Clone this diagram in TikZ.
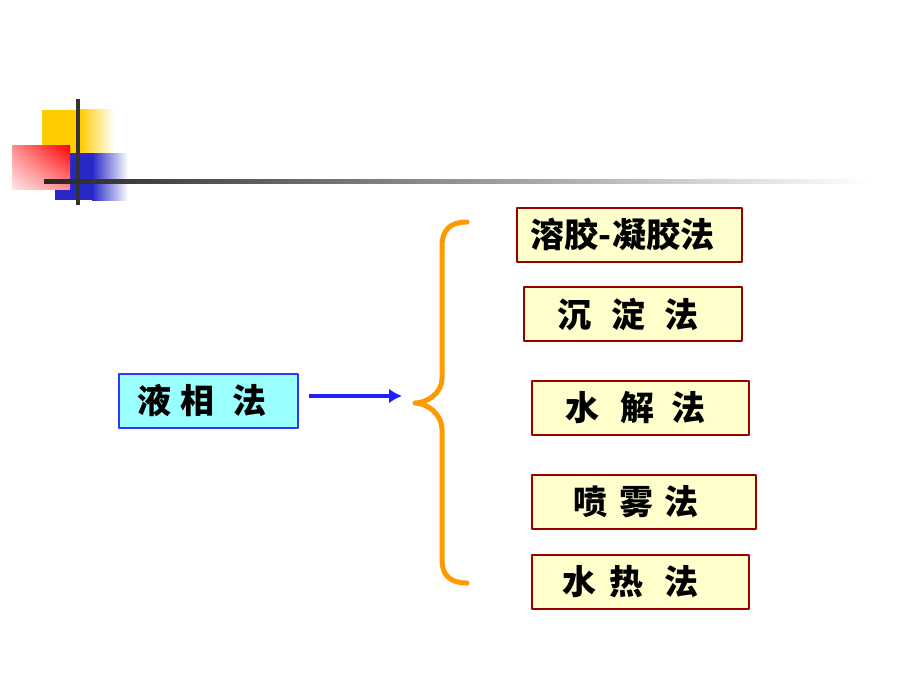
\documentclass[tikz,border=0pt]{standalone}
\usepackage{fontspec}
\newfontfamily\cjk{Noto Sans CJK SC}
\usetikzlibrary{arrows.meta, shadings}
\definecolor{brace_orange}{RGB}{255,153,0}
\definecolor{box_red}{RGB}{153,0,0}
\definecolor{box_yellow}{RGB}{255,255,204}
\definecolor{box_cyan}{RGB}{153,255,255}
\definecolor{box_blue}{RGB}{51,51,255}
\definecolor{deco_yellow}{RGB}{255,204,0}
\definecolor{deco_blue}{RGB}{40,40,200}
\tikzset{
	mainbox/.style={draw=box_blue, fill=box_cyan, line width=2pt, minimum width=179pt, minimum height=54pt, inner sep=0pt, font=\cjk\bfseries\fontsize{34pt}{34pt}\selectfont},
	methodbox/.style={draw=box_red, fill=box_yellow, line width=2pt, minimum height=54pt, inner sep=0pt, font=\cjk\bfseries\fontsize{34pt}{34pt}\selectfont}
}

\begin{document}
\begin{tikzpicture}[x=1pt, y=-1pt, line join=round]
	\useasboundingbox (0,0) rectangle (920,690);
	% corner decoration
	\fill[deco_yellow] (42,110) rectangle (80,153);
	\shade[left color=deco_yellow, right color=white] (80,110) rectangle (114,153);
	\fill[deco_blue] (55,153) rectangle (92,200);
	\shade[left color=deco_blue, right color=white] (92,153) rectangle (128,200);
	\shade[shading=bilinear interpolation, upper right=red, upper left=red!45, lower right=red!45, lower left=red!10] (12,145) rectangle (70,189);
	\draw[black!80, line width=4pt] (78,99) -- (78,205);
	\shade[left color=black!85, right color=white] (44,179) rectangle (870,183);

	\node[mainbox] (liquid) at (208.5,401) {液\hspace{9pt}相\hspace{18pt}法\kern13pt};
	\node[methodbox, minimum width=225pt] (sol) at (629.5,234.5) {溶胶{-}凝胶法\kern14pt};
	\node[methodbox, minimum width=218pt] (precip) at (633,314) {沉\hspace{20pt}淀\hspace{20pt}法\kern10pt};
	\node[methodbox, minimum width=217pt] (hydro) at (640.5,408) {水\hspace{21pt}解\hspace{17pt}法\kern10pt};
	\node[methodbox, minimum width=224pt] (spray) at (644,502) {喷\hspace{12pt}雾\hspace{11pt}法\kern16pt};
	\node[methodbox, minimum width=217pt] (thermal) at (640.5,582) {水\hspace{14pt}热\hspace{21pt}法\kern20pt};

	\coordinate (tip) at (402,396);
	\draw[-{Latex[length=13pt, width=15pt]}, box_blue!60!blue, line width=4pt] (liquid.east) ++(10,-5) -- (tip);

	\draw[brace_orange, line width=5pt, line cap=round]
		(467,222) .. controls (450,222) and (442,230) .. (442,246)
		-- (442,378) .. controls (442,394) and (426,403) .. (415,403)
		.. controls (426,403) and (442,413) .. (442,430)
		-- (442,560) .. controls (442,575) and (450,583) .. (467,583);
\end{tikzpicture}
\end{document}
